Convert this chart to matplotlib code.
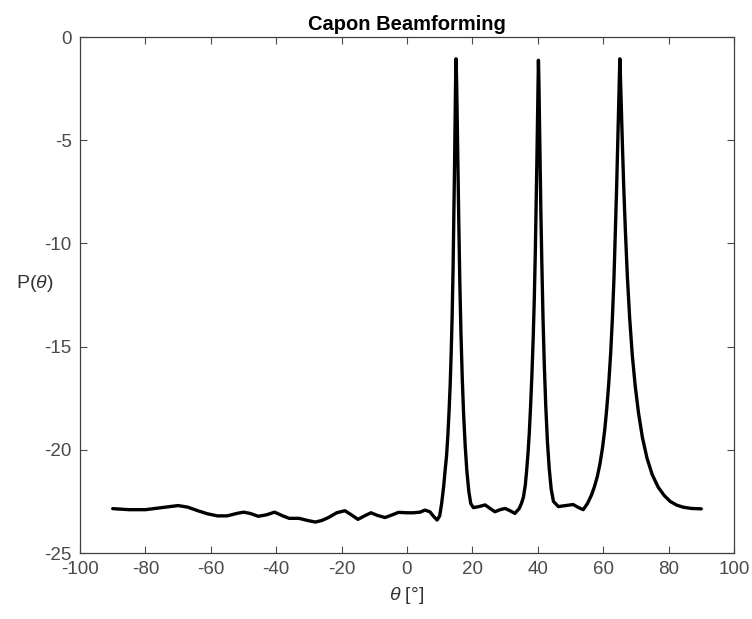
import matplotlib
matplotlib.use("Agg")
import matplotlib.pyplot as plt

plt.rcParams["font.family"] = ["Liberation Sans", "DejaVu Sans"]
plt.rcParams["mathtext.fontset"] = "custom"
plt.rcParams["mathtext.rm"] = "Liberation Sans"
plt.rcParams["mathtext.it"] = "Liberation Sans:italic"
plt.rcParams["axes.unicode_minus"] = False

# scan angle [deg] and Capon spectrum [dB], one line per stretch of the curve
theta = [
    # floor, -90 .. 10
    -90, -85, -80, -75, -70, -67, -64, -61, -58, -55,
    -52, -50, -48, -45.5, -43, -40.5, -38, -36, -33, -30.5,
    -28, -26, -24, -21.5, -19, -17, -15, -13, -11, -9,
    -6.7, -4.5, -2.6, 0, 2, 4, 5.5, 7, 8, 9.2, 10,
    # source at 15 deg
    10.6, 11.2, 11.6, 12.1, 12.5, 12.85, 13.2, 13.5, 13.8, 14.1,
    14.35, 14.55, 14.7, 14.85, 15.0, 15.2, 15.4, 15.6, 15.85, 16.15,
    16.5, 16.9, 17.3, 17.8, 18.3, 18.9, 19.5, 20.3,
    # floor between 15 and 40
    22, 23.9, 25.5, 26.9, 28.5, 30, 31.5, 33, 34.3, 35.0,
    # source at 40 deg
    35.6, 36.2, 36.6, 37.0, 37.4, 37.8, 38.2, 38.6, 38.95, 39.25,
    39.5, 39.75, 39.95, 40.1, 40.2, 40.32, 40.5, 40.7, 40.95, 41.25,
    41.6, 42.0, 42.45, 42.95, 43.5, 44.1, 44.8, 46.3,
    # floor between 40 and 65
    48.5, 50.8, 52.5, 53.9,
    # source at 65 deg
    55.2, 56.4, 57.3, 58.2, 59.0, 59.8, 60.5, 61.1, 61.7, 62.3,
    62.8, 63.3, 63.7, 64.1, 64.45, 64.75, 64.95, 65.1, 65.28, 65.55,
    65.9, 66.3, 66.8, 67.4, 68.1, 68.9, 69.8, 70.8, 72.0, 73.4,
    75.0, 76.8, 78.6, 80.5, 82.5, 84.5, 87, 90,
]
power_db = [
    -22.85, -22.90, -22.90, -22.80, -22.70, -22.78, -22.95, -23.10, -23.20, -23.20,
    -23.08, -23.02, -23.08, -23.22, -23.15, -23.02, -23.20, -23.32, -23.32, -23.42,
    -23.50, -23.42, -23.28, -23.05, -22.95, -23.15, -23.37, -23.20, -23.05, -23.18,
    -23.28, -23.15, -23.03, -23.05, -23.05, -23.02, -22.92, -23.00, -23.20, -23.40, -23.20,
    -22.60, -21.80, -21.10, -20.30, -19.30, -18.20, -16.90, -15.40, -13.60, -11.20,
    -8.60, -6.20, -4.20, -2.30, -1.05, -2.30, -4.40, -6.60, -9.00, -11.80,
    -14.30, -16.50, -18.20, -19.80, -21.00, -22.00, -22.60, -22.80,
    -22.75, -22.67, -22.85, -23.00, -22.90, -22.84, -22.95, -23.08, -22.85, -22.60,
    -22.30, -21.70, -21.00, -20.20, -19.20, -17.90, -16.40, -14.60, -12.60, -10.40,
    -8.20, -5.80, -3.60, -1.90, -1.12, -1.90, -3.80, -6.00, -8.50, -11.00,
    -13.60, -15.90, -17.90, -19.60, -20.90, -21.90, -22.50, -22.75,
    -22.70, -22.65, -22.80, -22.90,
    -22.60, -22.20, -21.80, -21.30, -20.70, -19.90, -19.00, -18.00, -16.80, -15.30,
    -13.70, -11.70, -9.60, -7.40, -5.20, -3.30, -1.90, -1.05, -1.90, -3.40,
    -5.30, -7.30, -9.40, -11.60, -13.60, -15.40, -16.90, -18.20, -19.40, -20.40,
    -21.20, -21.80, -22.20, -22.50, -22.68, -22.78, -22.84, -22.86,
]
x_ticks = [-100, -80, -60, -40, -20, 0, 20, 40, 60, 80, 100]
y_ticks = [-25, -20, -15, -10, -5, 0]

fig = plt.figure(figsize=(7.52, 6.19), dpi=100)
ax = fig.add_axes([0.1064, 0.1066, 0.8696, 0.8334])
ax.plot(theta, power_db, color="black", linewidth=2.4,
        solid_joinstyle="round", solid_capstyle="round")

ax.set_xlim(-100, 100)
ax.set_ylim(-25, 0)
ax.set_xticks(x_ticks)
ax.set_yticks(y_ticks)
ax.tick_params(direction="in", top=True, right=True, length=5, width=0.8,
               labelsize=13.5, colors="#4a4a4a", pad=6)
for s in ax.spines.values():
    s.set_color("#404040")
    s.set_linewidth(0.9)

ax.set_title("Capon Beamforming", fontsize=14.5, fontweight="bold", pad=5)
ax.set_xlabel(r"$\theta$ [°]", fontsize=14, color="#333333", labelpad=5)
fig.text(35 / 752, 1 - 283 / 619, r"P($\theta$)", fontsize=14, color="#333333",
         ha="center", va="center")

fig.savefig("out.png", dpi=100)
